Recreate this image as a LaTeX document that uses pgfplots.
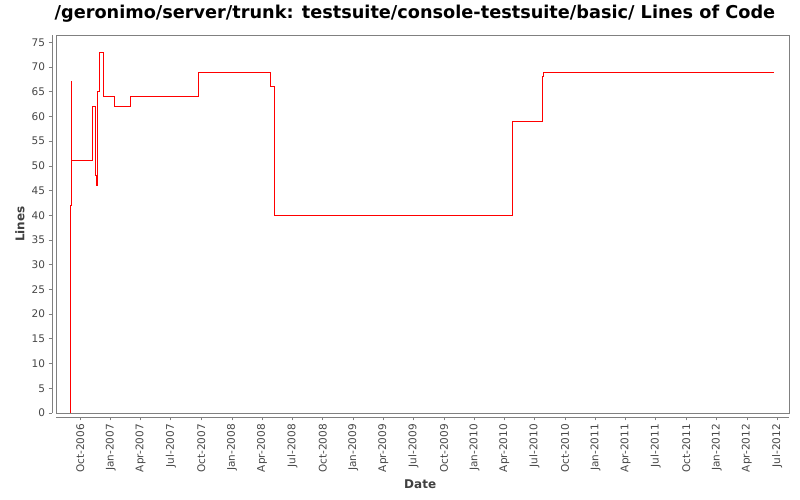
\documentclass[border=0pt]{standalone}
\usepackage{fontspec}
\setmainfont{DejaVu Sans}
\usepackage{pgfplots}
\pgfplotsset{compat=1.18}
\begin{document}
\begin{tikzpicture}[x=1pt,y=1pt]
\useasboundingbox (0,0) rectangle (800,500);
\fill[white] (0,0) rectangle (800,500);
\begin{axis}[
  at={(52pt,83pt)}, anchor=south west,
  scale only axis, width=737pt, height=382pt,
  xmin=-85.29, xmax=2135.9, ymin=-0.809, ymax=76.5,
  axis x line*=bottom, axis y line*=left,
  x axis line style={shorten <=4pt},
  y axis line style={shorten <=4pt},
  ytick={0,5,...,75},
  xtick={0,92,182,273,365,457,548,639,731,823,913,1004,1096,1188,1278,1369,1461,1553,1643,1734,1826,1918,2009,2100},
  xticklabels={Oct-2006,Jan-2007,Apr-2007,Jul-2007,Oct-2007,Jan-2008,Apr-2008,Jul-2008,Oct-2008,Jan-2009,Apr-2009,Jul-2009,Oct-2009,Jan-2010,Apr-2010,Jul-2010,Oct-2010,Jan-2011,Apr-2011,Jul-2011,Oct-2011,Jan-2012,Apr-2012,Jul-2012},
  x tick label style={rotate=90, anchor=east, font=\fontsize{10.5}{12}\selectfont, text=black!72},
  y tick label style={font=\fontsize{10.5}{12}\selectfont, text=black!72},
  /pgf/number format/assume math mode=true,
  tick align=outside, major tick length=3.5pt,
  axis line style={draw=gray}, tick style={draw=gray, line width=0.8pt},
  title={/geronimo/server/trunk: testsuite/console-testsuite/basic/ Lines of Code},
  title style={at={(axis description cs:0.4925,1.0)}, anchor=center, yshift=15pt, font=\bfseries\fontsize{17.7}{20}\selectfont},
  xlabel={Date}, ylabel={Lines},
  xlabel style={at={(axis description cs:0.4996,0)}, anchor=center, yshift=-67pt, font=\bfseries\fontsize{12}{14}\selectfont, text=black!75},
  ylabel style={at={(axis description cs:-0.0434,0.505)}, anchor=center, font=\bfseries\fontsize{12}{14}\selectfont, text=black!75},
  clip=false,
]
\draw[gray, line width=0.8pt] (axis cs:-73.2,0) rectangle (axis cs:2135.9,76.5);
\addplot[const plot, red, line width=1pt] coordinates {
(-30.1,0) (-30.1,42) (-27.1,67) (-26.8,51) (36.2,62) (45.2,48) (48.2,46) (51.2,65) (56.4,73) (69.3,64) (103.7,62) (150.7,64) (356.8,69) (573.8,66) (584.7,40) (1302,59) (1392,68) (1395.4,69) (2089.8,69)
};
\end{axis}
\end{tikzpicture}
\end{document}
